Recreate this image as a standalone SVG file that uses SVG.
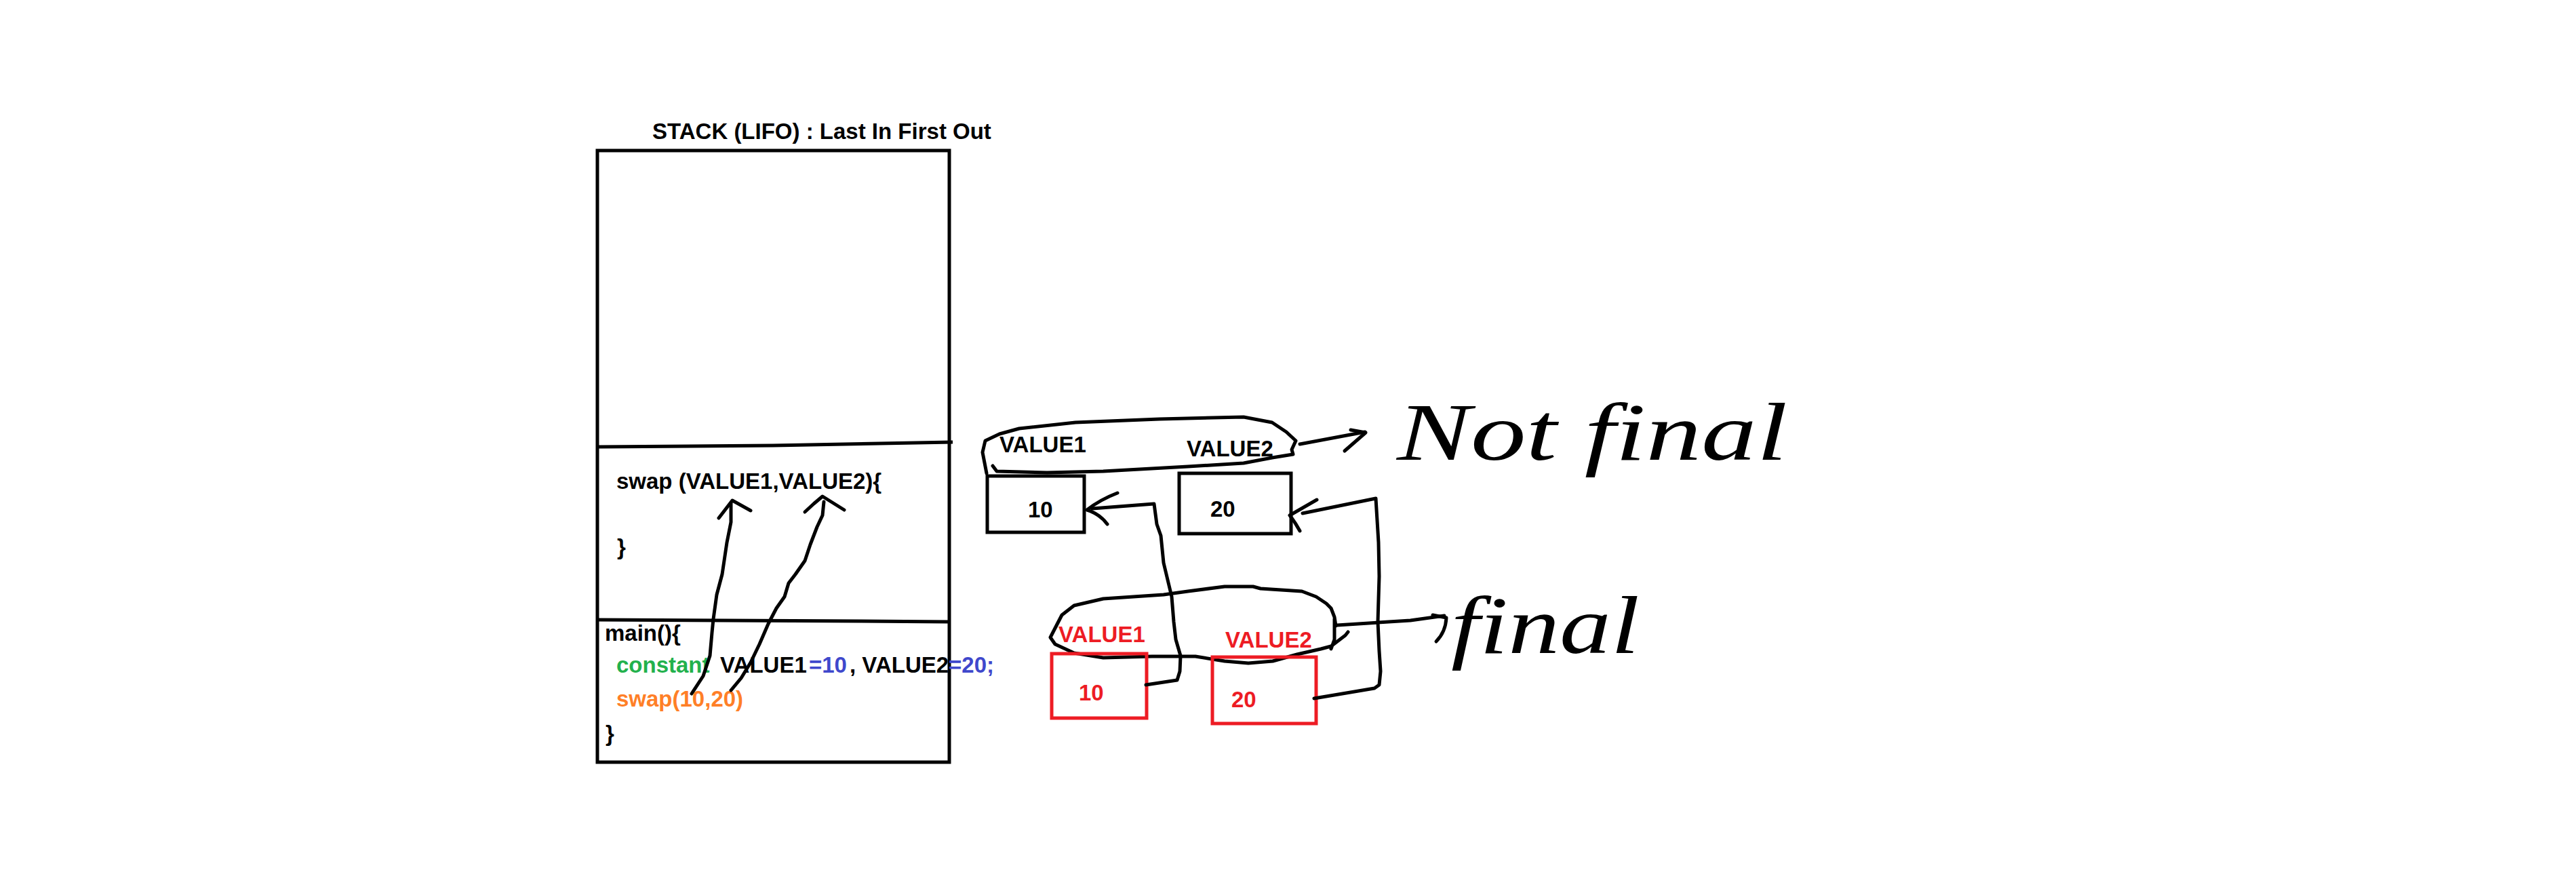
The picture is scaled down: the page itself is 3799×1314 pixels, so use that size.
<svg xmlns="http://www.w3.org/2000/svg" width="3799" height="1314" viewBox="0 0 3799 1314">
<style>
.t{font-family:"Liberation Sans",Arial,sans-serif;font-weight:bold;font-size:33px;fill:#000}
.red{fill:#ed1c24}
.grn{fill:#22b14c}
.blu{fill:#3f48cc}
.org{fill:#ff7f27}
.frame{fill:none;stroke:#000;stroke-width:5}
.rframe{fill:none;stroke:#ed1c24;stroke-width:5}
.hand{fill:none;stroke:#000;stroke-width:5;stroke-linecap:round;stroke-linejoin:round}
.script{font-family:"Liberation Serif","Times New Roman",serif;font-style:italic;font-size:120px;fill:#000}
</style>
<rect width="3799" height="1314" fill="#fff"/>

<g id="stack">
  <text class="t" x="962" y="205">STACK (LIFO) : Last In First Out</text>
  <rect class="frame" x="881" y="222" width="519" height="902"/>
  <polyline class="frame" points="881,659 1140,657 1405,652"/>
  <polyline class="frame" points="881,914 1270,916 1400,917"/>
</g>

<g id="swap-frame">
  <text class="t" x="909" y="721">swap (VALUE1,VALUE2){</text>
  <text class="t" x="910" y="818">}</text>
</g>

<g id="main-frame">
  <text class="t" x="892" y="945">main(){</text>
  <text class="t" y="992"><tspan class="grn" x="909">constant</tspan><tspan x="1062">VALUE1</tspan><tspan class="blu" x="1193">=10</tspan><tspan x="1253">, VALUE2</tspan><tspan class="blu">=20;</tspan></text>
  <text class="t org" x="909" y="1042">swap(10,20)</text>
  <text class="t" x="893" y="1093">}</text>
</g>

<g id="not-final-vars">
  <path class="hand" d="M1464,687 L1470,695 L1544,697 L1627,695 L1752,688 L1834,683 L1876,675 L1907,670 L1905,663 L1911,650 L1897,637 L1876,623 L1834,615 L1710,618 L1586,623 L1503,632 L1474,640 L1453,650 L1449,667 L1455,698"/>
  <text class="t" x="1474" y="667">VALUE1</text>
  <text class="t" x="1750" y="673">VALUE2</text>
</g>

<g id="box-10">
  <rect class="frame" x="1456" y="702" width="143" height="83"/>
  <text class="t" x="1516" y="763">10</text>
</g>
<g id="box-20">
  <rect class="frame" x="1739" y="698" width="165" height="89"/>
  <text class="t" x="1785" y="762">20</text>
</g>

<g id="final-vars">
  <path class="hand" d="M1970,923 L1968,910 L1963,897 L1956,890 L1941,880 L1920,872 L1859,868 L1848,865 L1806,865 L1752,872 L1716,877 L1627,883 L1584,893 L1566,907 L1549,940 L1556,950 L1584,963 L1627,970 L1699,968 L1763,968 L1806,975 L1841,978 L1877,975 L1913,965 L1948,957 L1963,953 L1984,937 L1988,932 M1968,913 L1968,943 L1963,957"/>
  <text class="t red" x="1561" y="947">VALUE1</text>
  <text class="t red" x="1807" y="955">VALUE2</text>
</g>

<g id="red-box-10">
  <rect class="rframe" x="1551" y="964" width="140" height="95"/>
  <text class="t red" x="1591" y="1033">10</text>
</g>
<g id="red-box-20">
  <rect class="rframe" x="1788" y="969" width="153" height="98"/>
  <text class="t red" x="1816" y="1043">20</text>
</g>

<g id="label-not-final">
  <text class="script" x="2060" y="678" textLength="576" lengthAdjust="spacingAndGlyphs">Not final</text>
</g>
<g id="label-final">
  <text class="script" x="2140" y="963" textLength="278" lengthAdjust="spacingAndGlyphs">final</text>
</g>

<g id="connectors">
  <path class="hand" d="M1020,1023 L1037,997 L1047,967 L1050,933 L1052,913 L1057,877 L1065,847 L1072,800 L1078,770 L1078,742"/>
  <path class="hand" d="M1060,764 L1080,738 L1107,753"/>
  <path class="hand" d="M1078,1018 L1093,1000 L1107,977 L1120,950 L1133,920 L1145,897 L1157,880 L1163,860 L1173,847 L1187,827 L1195,803 L1205,777 L1213,760 L1215,740"/>
  <path class="hand" d="M1187,755 L1200,743 L1213,732 L1245,752"/>
  <path class="hand" d="M1917,655 L2013,637"/>
  <path class="hand" d="M1992,634 L2014,638 L1983,665"/>
  <path class="hand" d="M1972,922 L2080,915 L2130,908"/>
  <path class="hand" d="M2113,907 L2133,911 Q2132,932 2118,946"/>
  <path class="hand" d="M1690,1010 L1736,1003 L1740,990 L1741,967 L1734,943 L1731,917 L1728,880 L1716,830 L1712,790 L1706,773 L1702,743 L1611,750"/>
  <path class="hand" d="M1648,727 Q1622,737 1603,752 Q1622,758 1633,773"/>
  <path class="hand" d="M1938,1030 L2027,1015 L2034,1010 L2036,990 L2034,960 L2032,917 L2034,850 L2033,800 L2029,735 L1921,757"/>
  <path class="hand" d="M1942,737 L1902,760 Q1910,770 1917,783"/>
</g>
</svg>
